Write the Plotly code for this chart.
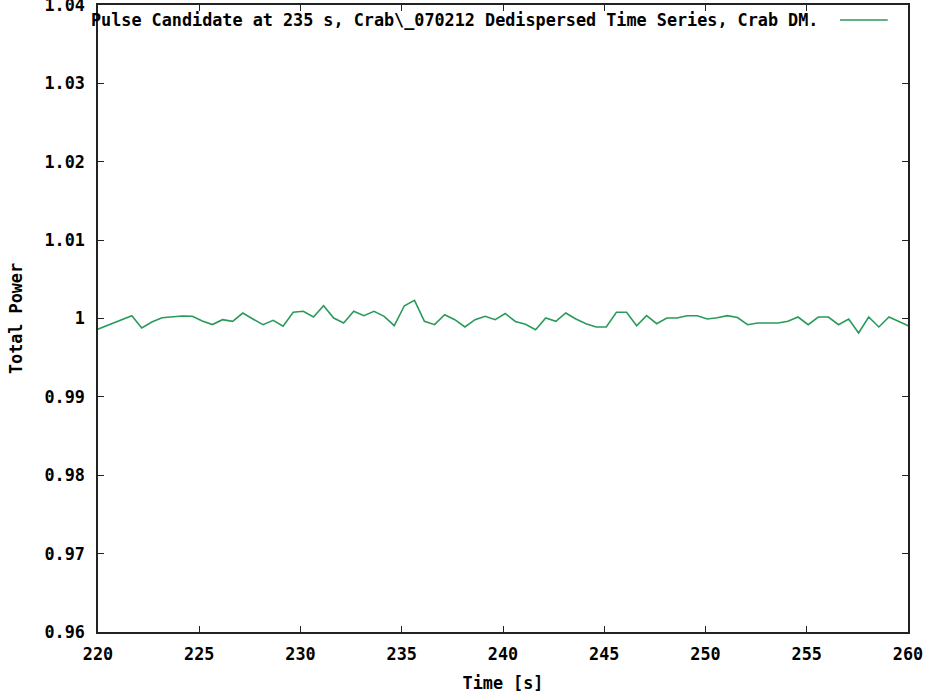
import plotly.graph_objects as go

# Dedispersed time series around the pulse candidate (seconds, normalised power)
time_s = [
    219.67, 220.17, 220.67, 221.17, 221.67, 222.16, 222.66, 223.16, 223.66, 224.16,
    224.66, 225.15, 225.65, 226.15, 226.65, 227.15, 227.65, 228.15, 228.65, 229.14,
    229.64, 230.14, 230.64, 231.14, 231.64, 232.13, 232.63, 233.13, 233.63, 234.13,
    234.63, 235.13, 235.63, 236.12, 236.62, 237.12, 237.62, 238.12, 238.62, 239.12,
    239.61, 240.11, 240.61, 241.11, 241.61, 242.11, 242.61, 243.10, 243.60, 244.10,
    244.60, 245.10, 245.60, 246.10, 246.60, 247.09, 247.59, 248.09, 248.59, 249.09,
    249.59, 250.09, 250.58, 251.08, 251.58, 252.08, 252.58, 253.08, 253.58, 254.07,
    254.57, 255.07, 255.57, 256.07, 256.57, 257.07, 257.56, 258.06, 258.56, 259.06,
    259.56, 260.06,
]
total_power = [
    0.99830, 0.99884, 0.99935, 0.99985, 1.00036, 0.99879, 0.99955, 1.00009, 1.00022, 1.00032,
    1.00028, 0.99968, 0.99923, 0.99985, 0.99964, 1.00070, 0.99994, 0.99921, 0.99977, 0.99901,
    1.00079, 1.00092, 1.00019, 1.00163, 1.00006, 0.99943, 1.00092, 1.00036, 1.00092, 1.00028,
    0.99908, 1.00163, 1.00232, 0.99964, 0.99921, 1.00048, 0.99985, 0.99892, 0.99985, 1.00028,
    0.99985, 1.00064, 0.99962, 0.99926, 0.99857, 1.00006, 0.99964, 1.00070, 0.99994, 0.99934,
    0.99892, 0.99892, 1.00079, 1.00079, 0.99908, 1.00036, 0.99934, 1.00006, 1.00006, 1.00036,
    1.00036, 0.99994, 1.00010, 1.00036, 1.00013, 0.99921, 0.99943, 0.99943, 0.99943, 0.99964,
    1.00019, 0.99921, 1.00019, 1.00019, 0.99921, 0.99994, 0.99815, 1.00019, 0.99892, 1.00019,
    0.99963, 0.99902,
]

x_ticks = [220, 225, 230, 235, 240, 245, 250, 255, 260]
y_ticks = [0.96, 0.97, 0.98, 0.99, 1.00, 1.01, 1.02, 1.03, 1.04]
y_tick_text = ["0.96", "0.97", "0.98", "0.99", "1", "1.01", "1.02", "1.03", "1.04"]

series_label = "Pulse Candidate at 235 s, Crab\\_070212 Dedispersed Time Series, Crab DM."
line_color = "#2a9a5a"
font_family = "DejaVu Sans Mono"

fig = go.Figure()
fig.add_trace(go.Scatter(
    x=time_s, y=total_power, mode="lines",
    line=dict(color=line_color, width=1.6),
    name=series_label, showlegend=False,
))

axis_common = dict(
    showgrid=False, zeroline=False, automargin=False,
    showline=True, linecolor="#222222", linewidth=1.5, mirror="ticks",
    ticks="inside", ticklen=6, tickwidth=1.2, tickcolor="#222222",
    ticklabeloverflow="allow",
    tickfont=dict(family=font_family, size=16.8, color="black", weight="bold"),
)

fig.update_layout(
    width=930, height=694,
    margin=dict(l=98, r=22, t=5, b=62),
    paper_bgcolor="white", plot_bgcolor="white",
    font=dict(family=font_family, color="black", weight="bold"),
    xaxis=dict(
        range=[220, 260], tickvals=x_ticks, ticktext=[str(v) for v in x_ticks],
        title=dict(text="Time [s]", standoff=14,
                   font=dict(family=font_family, size=16.8, weight="bold")),
        ticklabelstandoff=6,
        **axis_common,
    ),
    yaxis=dict(
        range=[0.96, 1.04], tickvals=y_ticks, ticktext=y_tick_text,
        title=dict(text="Total Power", standoff=18,
                   font=dict(family=font_family, size=16.8, weight="bold")),
        ticklabelstandoff=8,
        **axis_common,
    ),
)

# gnuplot-style key: right-aligned label followed by a line sample
fig.add_annotation(
    xref="paper", yref="paper", x=0.891, y=0.976,
    xanchor="right", yanchor="middle", showarrow=False,
    text=series_label,
    font=dict(family=font_family, size=16.8, color="black", weight="bold"),
)
fig.add_shape(
    type="line", xref="paper", yref="paper",
    x0=0.916, x1=0.975, y0=0.976, y1=0.976,
    line=dict(color=line_color, width=1.6),
)

fig.write_html("out.html")
